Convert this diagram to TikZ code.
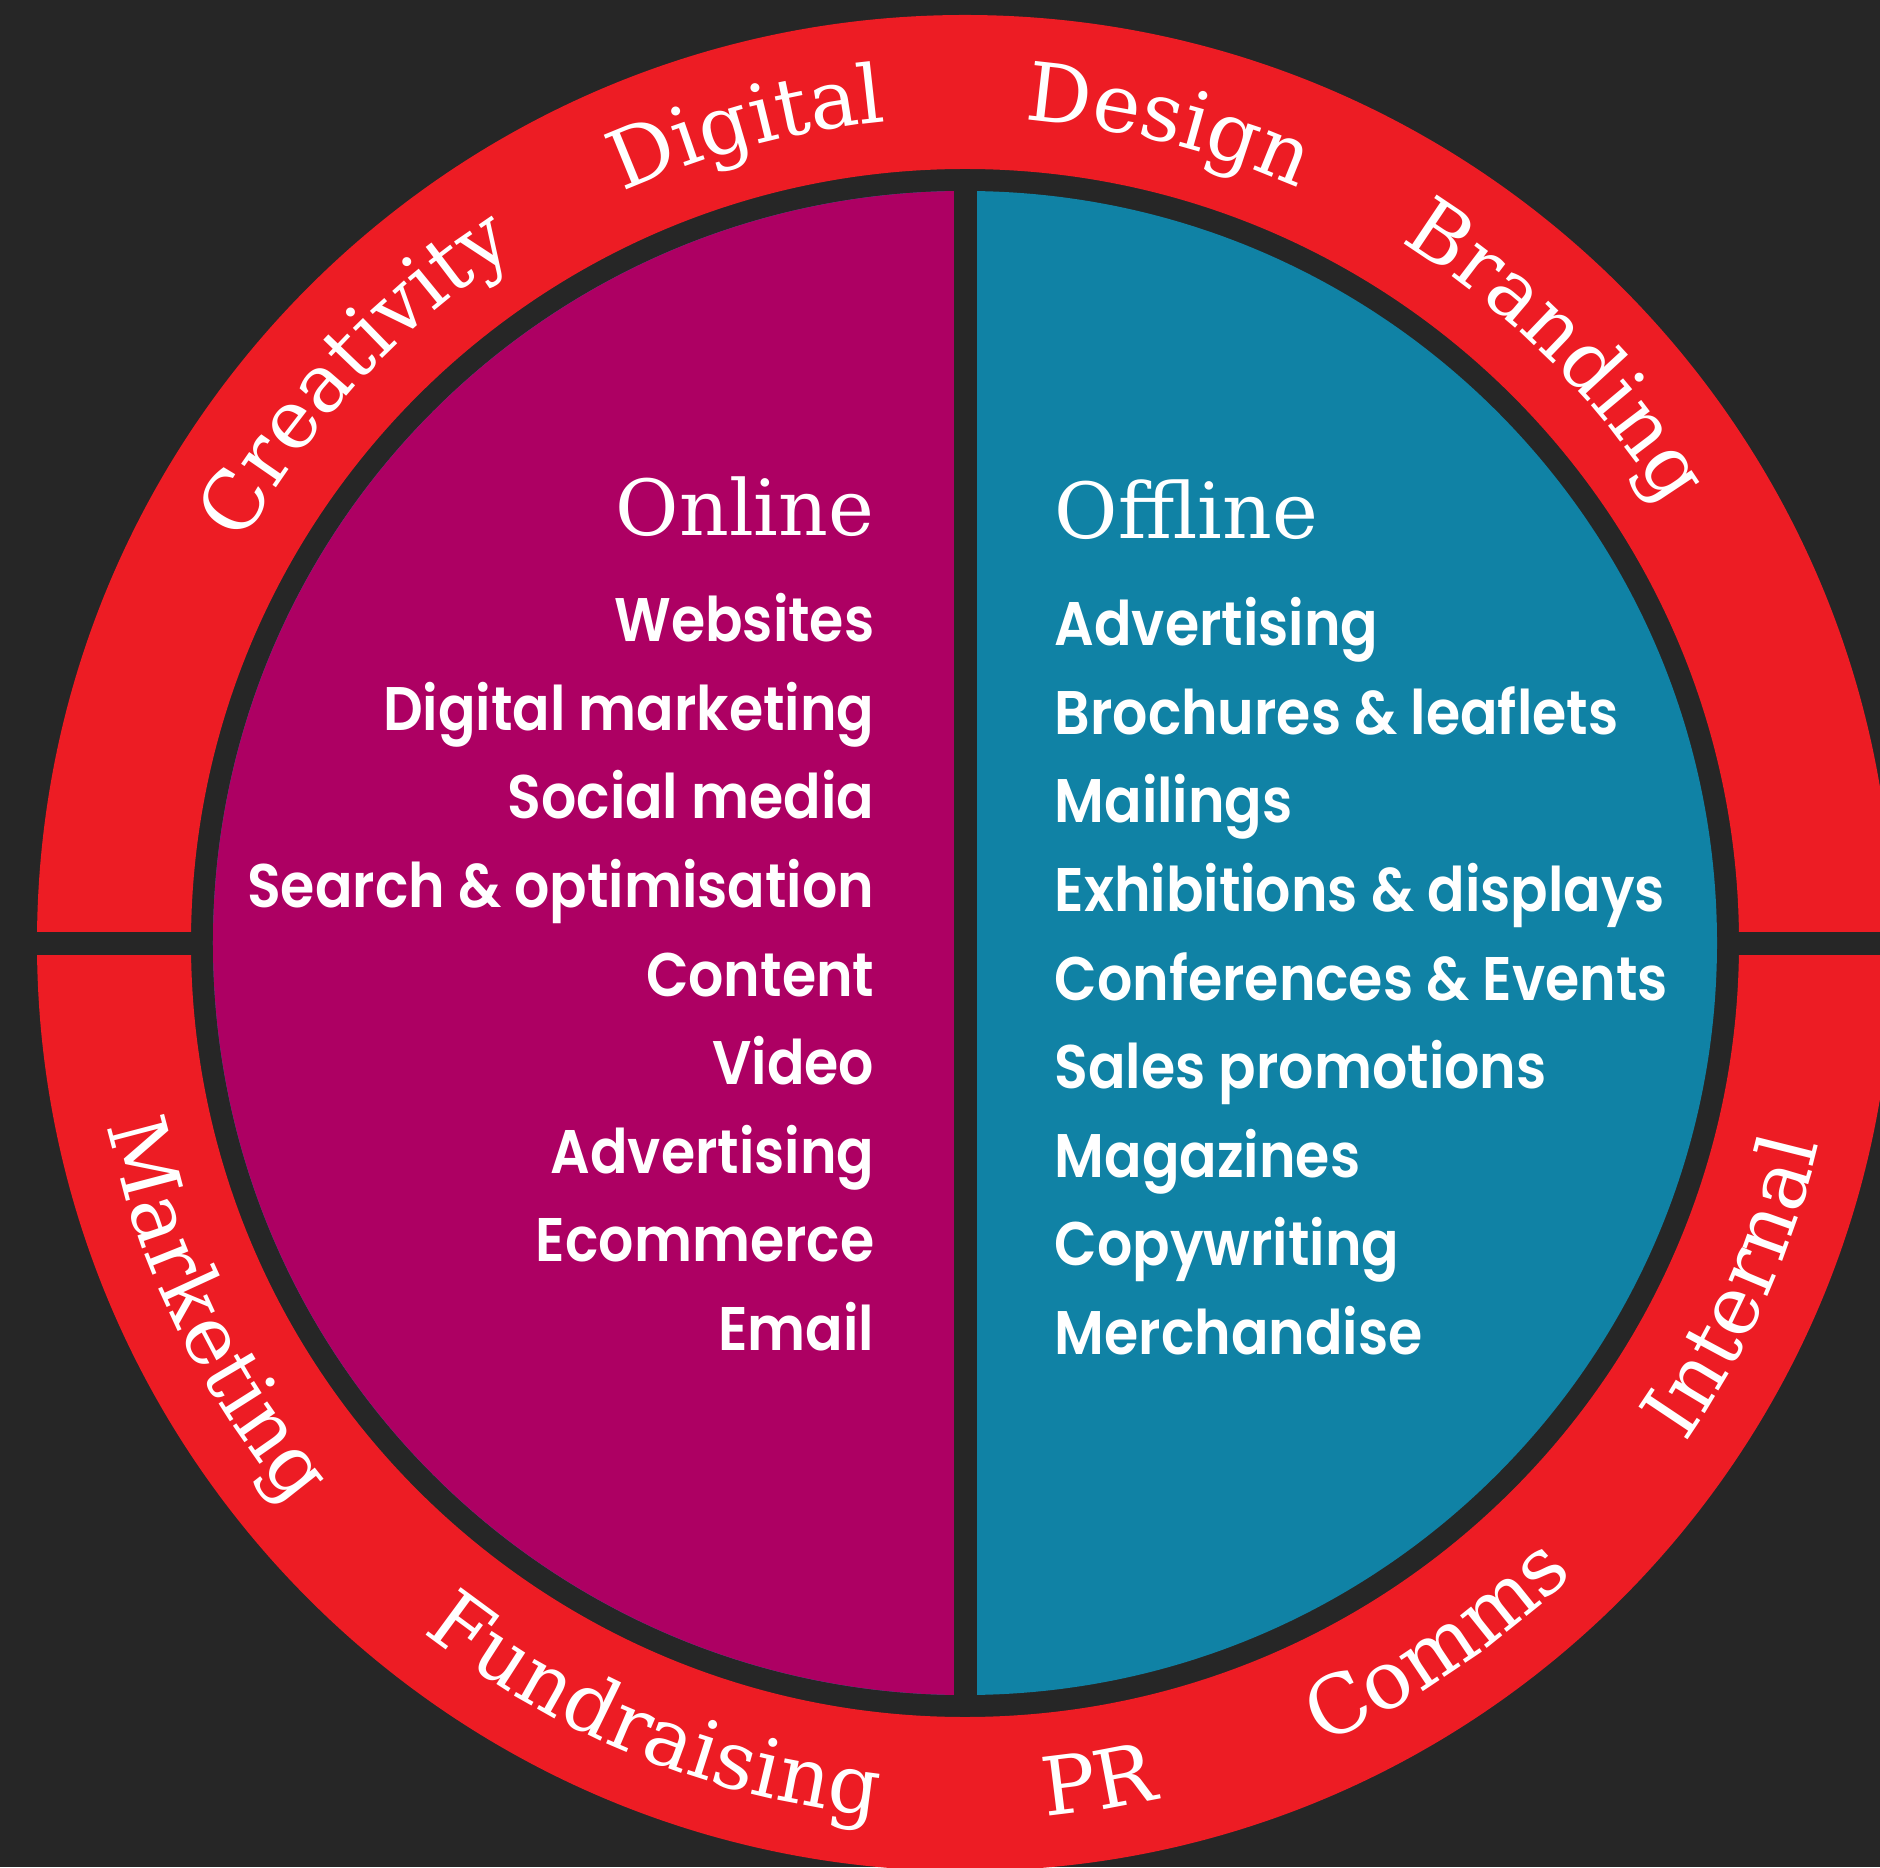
\documentclass[tikz,border=0pt]{standalone}
\usepackage{fontspec}
\usetikzlibrary{decorations.text}

\newfontfamily\ringfamily{DejaVu Serif}
\newfontfamily\listfamily{Poppins SemiBold}[FakeStretch=0.9]
\definecolor{bgdark}{RGB}{38,38,38}
\definecolor{ringred}{RGB}{237,28,36}
\definecolor{onlinemag}{RGB}{173,0,99}
\definecolor{offlineteal}{RGB}{16,130,165}
\newcommand{\ringfont}{\ringfamily\fontsize{23}{27}\selectfont}
\newcommand{\headfont}{\ringfamily\fontsize{22}{26}\selectfont}
\newcommand{\listfont}{\listfamily\fontsize{17.5}{21}\selectfont}

\tikzset{
	itemL/.style={anchor=base east, inner sep=0pt, text=white, font=\listfont},
	itemR/.style={anchor=base west, inner sep=0pt, text=white, font=\listfont},
	headL/.style={anchor=base east, inner sep=0pt, text=white, font=\headfont},
	headR/.style={anchor=base west, inner sep=0pt, text=white, font=\headfont},
	ringword/.style={decorate, decoration={text along path, text align=center,
		text={|\ringfont\color{white}|#1}}},
}

\begin{document}
\begin{tikzpicture}[x=0.01cm, y=0.01cm]
	% Background
	\useasboundingbox (-965,-924) rectangle (915,943);
	\fill[bgdark] (-965,-924) rectangle (915,943);

	% Outer ring, cut in two
	\fill[ringred, even odd rule] (0,0) circle[radius=928] (0,0) circle[radius=774];
	\fill[bgdark] (-940,-11.5) rectangle (-760,11.5);
	\fill[bgdark] (760,-11.5) rectangle (940,11.5);

	% Inner disc: online left, offline right
	\fill[offlineteal] (0,0) circle[radius=752];
	\fill[onlinemag] (0,752) arc[start angle=90, end angle=270, radius=752] -- cycle;
	\fill[bgdark] (-11.5,-760) rectangle (11.5,760);

	% Ring words, upper half
	\path[ringword=Creativity] (167:825) arc[start angle=167, end angle=107, radius=825];
	\path[ringword=Digital] (135:825) arc[start angle=135, end angle=75, radius=825];
	\path[ringword=Design] (106:825) arc[start angle=106, end angle=46, radius=825];
	\path[ringword=Branding] (75:825) arc[start angle=75, end angle=15, radius=825];
	% Ring words, lower half
	\path[ringword=Marketing] (176:877) arc[start angle=176, end angle=236, radius=877];
	\path[ringword=Fundraising] (218:877) arc[start angle=218, end angle=278, radius=877];
	\path[ringword=PR] (249:877) arc[start angle=249, end angle=309, radius=877];
	\path[ringword=Comms] (274:877) arc[start angle=274, end angle=334, radius=877];
	\path[ringword=Internal] (306:877) arc[start angle=306, end angle=366, radius=877];

	% Online list
	\node[headL] (online) at (-90,407) {Online};
	\node[itemL] (websites) at (-90,301) {Websites};
	\node[itemL] (digmark) at (-90,212.5) {Digital marketing};
	\node[itemL] (social) at (-90,124) {Social media};
	\node[itemL] (search) at (-90,35.5) {Search \& optimisation};
	\node[itemL] (content) at (-90,-53) {Content};
	\node[itemL] (video) at (-90,-141.5) {Video};
	\node[itemL] (advon) at (-90,-230) {Advertising};
	\node[itemL] (ecomm) at (-90,-318.5) {Ecommerce};
	\node[itemL] (email) at (-90,-407) {Email};

	% Offline list
	\node[headR] (offline) at (89,404) {Offline};
	\node[itemR] (advoff) at (89,297) {Advertising};
	\node[itemR] (brochures) at (89,208.5) {Brochures \& leaflets};
	\node[itemR] (mailings) at (89,120) {Mailings};
	\node[itemR] (exhib) at (89,31.5) {Exhibitions \& displays};
	\node[itemR] (confs) at (89,-57) {Conferences \& Events};
	\node[itemR] (sales) at (89,-145.5) {Sales promotions};
	\node[itemR] (mags) at (89,-234) {Magazines};
	\node[itemR] (copy) at (89,-322.5) {Copywriting};
	\node[itemR] (merch) at (89,-411) {Merchandise};
\end{tikzpicture}
\end{document}
